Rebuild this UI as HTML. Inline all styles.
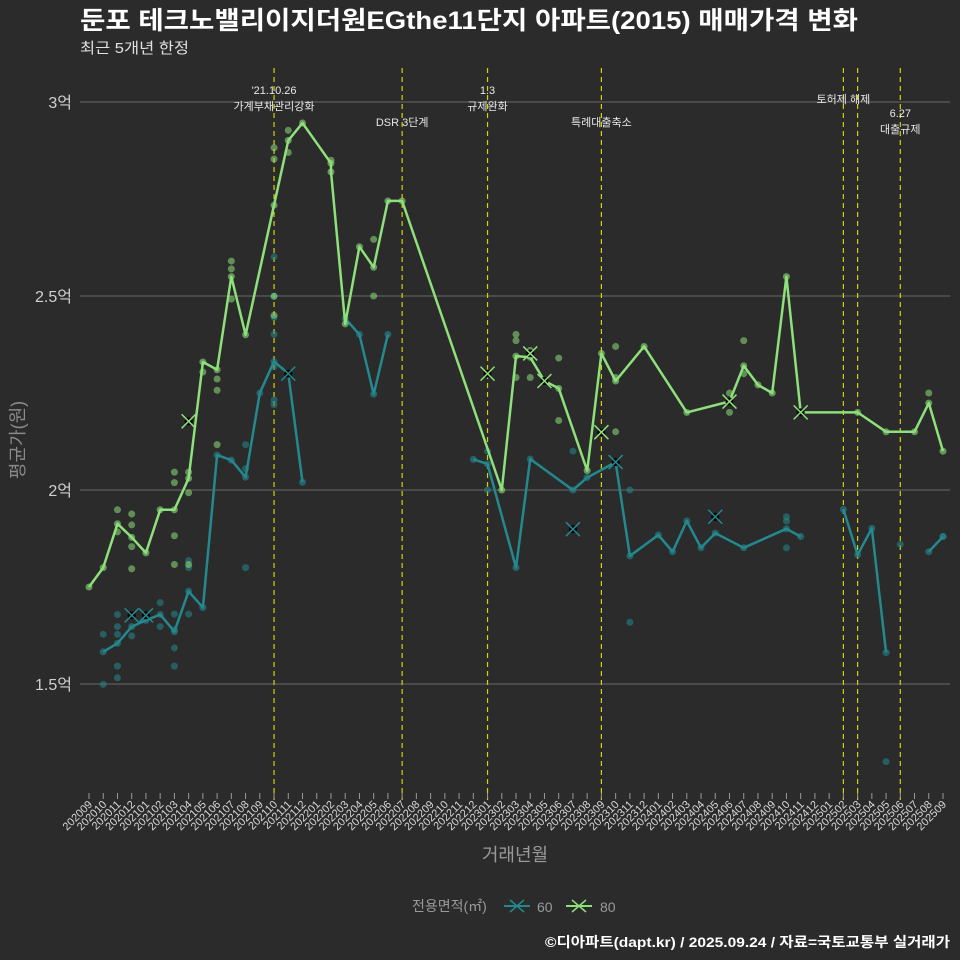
<!DOCTYPE html>
<html><head><meta charset="utf-8">
<style>
html,body{margin:0;padding:0;background:#2b2b2c;}
svg{display:block;font-family:"Liberation Sans","Noto Sans CJK KR",sans-serif;}
</style></head>
<body>
<svg id="chart" width="960" height="960" viewBox="0 0 960 960">
<rect width="960" height="960" fill="#2b2b2c"/>
<text x="80" y="29" fill="#ffffff" font-size="25" font-weight="bold" textLength="778" lengthAdjust="spacingAndGlyphs">둔포 테크노밸리이지더원EGthe11단지 아파트(2015) 매매가격 변화</text>
<text x="80" y="53" fill="#e0e0e0" font-size="15" textLength="109" lengthAdjust="spacingAndGlyphs">최근 5개년 한정</text>
<g id="grid"></g>
<g id="yaxis"></g>
<g id="events"></g>
<g id="series"></g>
<g id="xaxis"></g>
<text x="0" y="0" transform="translate(24,440) rotate(-90)" text-anchor="middle" fill="#8a8a8a" font-size="18">평균가(원)</text>
<text x="515" y="861" text-anchor="middle" fill="#9a9a9a" font-size="18">거래년월</text>
<g>
<text x="412" y="911" fill="#9a9a9a" font-size="14">전용면적(㎡)</text>
<g>
<line x1="504" y1="906" x2="530" y2="906" stroke="#23898e" stroke-width="2"/>
<path d="M510 900 L524 912 M524 900 L510 912" stroke="#23898e" stroke-width="1.5"/>
<text x="537" y="912" fill="#9a9a9a" font-size="14">60</text></g>
<g>
<line x1="566" y1="906" x2="592" y2="906" stroke="#8ee07a" stroke-width="2"/>
<path d="M572 900 L586 912 M586 900 L572 912" stroke="#8ee07a" stroke-width="1.5"/>
<text x="600" y="912" fill="#9a9a9a" font-size="14">80</text></g>
</g>
<text x="950" y="947" text-anchor="end" fill="#ffffff" font-size="14" font-weight="bold" textLength="405" lengthAdjust="spacingAndGlyphs">©디아파트(dapt.kr) / 2025.09.24 / 자료=국토교통부 실거래가</text>
</svg>
<script>
const months = [];
for (let y = 2020, m = 9; y * 100 + m <= 202509; m++) { if (m > 12) { m = 1; y++; } months.push(String(y * 100 + m).padStart(6, '0')); }
const yTicks = [15000, 20000, 25000, 30000];
const yTickLabels = ['1.5억', '2억', '2.5억', '3억'];
const line60 = [[1,15830],[2,16050],[3,16480],[4,16640],[5,16790],[6,16350],[7,17390],[8,16970],[9,20900],[10,20770],[11,20330],[12,22500],[13,23310],[14,23000],[15,20200],null,[18,24420],[19,24010],[20,22470],[21,24010],null,[27,20790],[28,20670],[30,18000],[31,20800],[34,20000],[35,20320],[37,20720],[38,18300],[40,18840],[41,18410],[42,19200],[43,18510],[44,18890],[46,18510],[49,19000],[50,18800],null,[53,19500],[54,18330],[55,19010],[56,15810],null,[59,18410],[60,18800]];
const line80 = [[0,17500],[1,18000],[2,19130],[3,18780],[4,18380],[5,19490],[6,19490],[7,20300],[8,23300],[9,23100],[10,25500],[11,24000],[13,27340],[14,29010],[15,29460],[17,28420],[17,28200],[18,24280],[19,26270],[20,25740],[21,27450],[22,27450],[29,20000],[30,23450],[31,23420],[32,22810],[33,22620],[35,20500],[36,23520],[37,22810],[39,23700],[42,22000],[45,22280],[46,23200],[47,22710],[48,22500],[49,25500],[50,22000],[54,22000],[56,21500],[58,21500],[59,22240],[60,21000]];
const dots60 = [[1,16280],[1,14990],[2,16790],[2,16480],[2,16280],[2,15460],[2,15160],[3,16240],[5,17100],[5,16480],[6,16800],[6,16400],[6,15930],[6,15460],[7,18180],[7,18000],[7,16800],[11,21170],[11,20550],[11,18000],[13,26010],[13,25000],[13,24450],[13,24010],[13,23180],[13,22320],[13,22200],[14,23000],[28,21000],[28,20000],[34,21000],[38,20000],[38,16590],[49,19310],[49,19200],[49,18510],[57,18600],[56,13000],[60,18800]];
const dots80 = [[2,19490],[2,18920],[3,19380],[3,19100],[3,18540],[3,17970],[6,20460],[6,20190],[6,18820],[6,18080],[7,20460],[7,19930],[7,18080],[8,23040],[9,22860],[9,22570],[9,21170],[10,25900],[10,25700],[10,24920],[13,28820],[13,28530],[13,24990],[13,24500],[14,29270],[14,28700],[17,28500],[20,26460],[20,25000],[30,24010],[30,23850],[30,22900],[31,23600],[31,22900],[33,23400],[33,21790],[37,23700],[37,22900],[37,21500],[45,22500],[45,22000],[46,23850],[46,23000],[59,22500]];
const x60 = [[3,16770],[4,16770],[14,23000],[34,18990],[37,20720],[44,19310]];
const x80 = [[7,21770],[28,23000],[31,23520],[32,22810],[36,21490],[45,22280],[50,22000]];
const eventMonths = ['202110','202207','202301','202309','202502','202503','202506'];
const eventLabels = [["'21.10.26","가계부채관리강화"],["DSR 3단계"],["1.3","규제완화"],["특례대출축소"],["토허제 해제"],[],["6.27","대출규제"]];
const eventLabelY = [[94,110],[126],[94,110],[126],[103],[],[117,133]];

const NS = 'http://www.w3.org/2000/svg';
const xS = i => 89 + i * (943 - 89) / 60;
const yS = v => 102 + (30000 - v) / 5000 * 194;
function mk(tag, attrs, parent) { const e = document.createElementNS(NS, tag); for (const k in attrs) e.setAttribute(k, attrs[k]); parent.appendChild(e); return e; }
const grid = document.getElementById('grid'), yax = document.getElementById('yaxis'), ev = document.getElementById('events'), ser = document.getElementById('series'), xax = document.getElementById('xaxis');
yTicks.forEach((t, k) => {
  const g = mk('line', {x1: 80, x2: 950, y1: yS(t), y2: yS(t), stroke: '#6a6a6a', 'stroke-width': 1}, grid);
  
  
  const tx = mk('text', {x: 72, y: yS(t) + 6, 'text-anchor': 'end', fill: '#d0d0d0', 'font-size': 16}, yax);
  tx.textContent = yTickLabels[k];
  
  
});
eventMonths.forEach((m, k) => {
  const x = xS(months.indexOf(m));
  const l = mk('line', {x1: x, x2: x, y1: 68, y2: 800, stroke: '#d4d400', 'stroke-width': 1.2, 'stroke-dasharray': '5,4'}, ev);
  
  
  eventLabels[k].forEach((s, j) => {
    const t = mk('text', {x: x, y: eventLabelY[k][j], 'text-anchor': 'middle', fill: '#e8e8e8', 'font-size': 11}, ev);
    t.textContent = s;
    
    
  });
});
function drawLine(data, color, name) {
  let d = '', start = true;
  data.forEach(p => { if (!p) { start = true; return; } d += (start ? 'M' : 'L') + xS(p[0]).toFixed(1) + ' ' + yS(p[1]).toFixed(1) + ' '; start = false; });
  const pth = mk('path', {d: d, fill: 'none', stroke: color, 'stroke-width': 2.5, 'stroke-linejoin': 'round'}, ser);
  
  
  data.forEach(p => { if (!p) return;
    const c = mk('circle', {cx: xS(p[0]), cy: yS(p[1]), r: 3.5, fill: color, opacity: 0.6}, ser);
    
    
  });
}
function drawDots(data, color, name) {
  data.forEach(p => {
    const c = mk('circle', {cx: xS(p[0]), cy: yS(p[1]), r: 3.5, fill: color, opacity: 0.55}, ser);
    
    
  });
}
function drawX(data, color, name) {
  data.forEach(p => {
    const x = xS(p[0]), y = yS(p[1]);
    const g = mk('g', {}, ser);
    
    
    mk('circle', {cx: x, cy: y, r: 4, fill: '#000'}, g);
    mk('path', {d: `M${x-7} ${y-7} L${x+7} ${y+7} M${x+7} ${y-7} L${x-7} ${y+7}`, stroke: color, 'stroke-width': 1.5}, g);
  });
}
drawDots(dots60, '#23898e', 'deal-dot-60');
drawDots(dots80, '#8ee07a', 'deal-dot-80');
drawLine(line60, '#23898e', 'line-60');
drawLine(line80, '#8ee07a', 'line-80');
drawX(x60, '#23898e', 'marker-x-60');
drawX(x80, '#8ee07a', 'marker-x-80');
months.forEach((m, i) => {
  const x = xS(i);
  mk('line', {x1: x, x2: x, y1: 793, y2: 799, stroke: '#9a9a9a', 'stroke-width': 1}, xax);
  const t = mk('text', {x: 0, y: 0, transform: `translate(${x + 4},${805}) rotate(-45)`, 'text-anchor': 'end', fill: '#d8d8d8', 'font-size': 11}, xax);
  t.textContent = m;
  
  
});
</script>
</body></html>
